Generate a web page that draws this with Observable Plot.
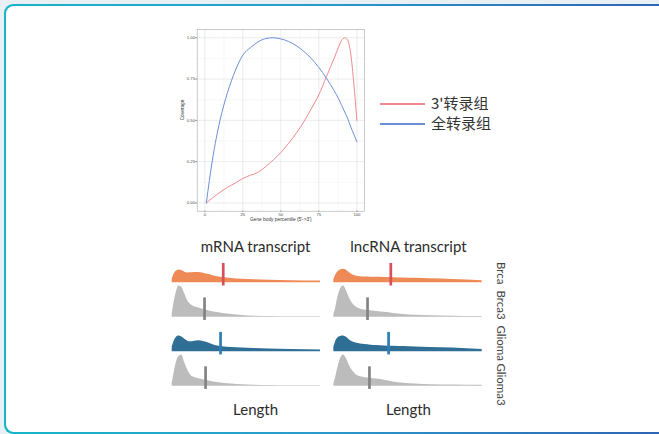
<!DOCTYPE html>
<html><head><meta charset="utf-8">
<script src="https://cdn.jsdelivr.net/npm/d3@7"></script>
<script src="https://cdn.jsdelivr.net/npm/@observablehq/plot@0.6"></script>
<style>
html,body{margin:0;padding:0}
body{width:659px;height:434px;overflow:hidden;position:relative;background:#e9f0f3}
#frame{position:absolute;left:4px;top:4px;width:672px;height:429.5px;border-radius:9px;box-sizing:border-box;padding:1.5px;background:linear-gradient(90deg,#17b6c8 0%,#2a9bcc 45%,#2f62b4 100%)}
#frame>div{width:100%;height:100%;background:#fff;border-radius:8px}
.abs{position:absolute}
#legend{position:absolute;left:380px;top:92px;font-family:"Noto Sans CJK SC","Noto Sans",sans-serif;font-size:15px;color:#333}
#legend .row{position:absolute;left:0;height:20px;width:120px}
#legend .ln{position:absolute;left:0;top:10px;width:45px;height:2px}
#legend .tx{position:absolute;left:51px;top:0;line-height:20px;white-space:nowrap}
</style></head>
<body>
<div id="frame"><div></div></div>
<div id="topChart" class="abs" style="left:150px;top:20px"></div>
<div id="legend">
  <div class="row" style="top:1px"><div class="ln" id="lnA"></div><div class="tx" id="txA"></div></div>
  <div class="row" style="top:21px"><div class="ln" id="lnB"></div><div class="tx" id="txB"></div></div>
</div>
<div id="bottomChart" class="abs" style="left:160px;top:230px"></div>
<script>
// ---------- coverage chart data ----------
const seriesNames = ["3'转录组", "全转录组"];
const percentile = [1, 5, 10, 15, 20, 25, 30, 35, 40, 45, 50, 55, 60, 65, 70, 75, 80, 85, 88, 90, 92, 94, 96, 98, 100];
const cov3prime  = [0, 0.03, 0.065, 0.095, 0.12, 0.148, 0.168, 0.185, 0.22, 0.26, 0.305, 0.36, 0.42, 0.49, 0.57, 0.655, 0.765, 0.875, 0.945, 0.985, 1.0, 0.985, 0.9, 0.72, 0.5];
const covFull    = [0, 0.26, 0.5, 0.67, 0.8, 0.895, 0.94, 0.975, 0.995, 1.0, 0.993, 0.978, 0.953, 0.918, 0.875, 0.82, 0.755, 0.68, 0.63, 0.59, 0.55, 0.51, 0.46, 0.415, 0.37];
const xTicks = [0, 25, 50, 75, 100];
const yTicks = [0, 0.25, 0.5, 0.75, 1.0];
const xMinor = [12.5, 37.5, 62.5, 87.5];
const yMinor = [0.125, 0.375, 0.625, 0.875];

// ---------- length distribution data ----------
const columns = ["mRNA transcript", "lncRNA transcript"];
const groups = ["Brca", "Brca3", "Glioma", "Glioma3"];
const lengthGrid  = [0, 1, 2.5, 4.5, 6.5, 8.5, 10.5, 12.5, 15, 18, 21, 25, 29, 34, 40, 47, 55, 65, 80, 100];
const mrnaBrca    = [0.12, 0.25, 0.36, 0.41, 0.39, 0.34, 0.315, 0.32, 0.33, 0.33, 0.31, 0.265, 0.21, 0.17, 0.14, 0.115, 0.1, 0.085, 0.07, 0.055];
const mrnaBrca3   = [0.1, 0.4, 0.75, 1.0, 0.96, 0.74, 0.52, 0.41, 0.34, 0.3, 0.25, 0.2, 0.16, 0.125, 0.09, 0.06, 0.035, 0.025, 0.018, 0.015];
const mrnaGlioma  = [0.15, 0.3, 0.44, 0.5, 0.47, 0.4, 0.34, 0.32, 0.34, 0.355, 0.33, 0.27, 0.2, 0.16, 0.14, 0.12, 0.105, 0.09, 0.07, 0.055];
const mrnaGlioma3 = [0.1, 0.35, 0.7, 0.95, 1.0, 0.74, 0.52, 0.35, 0.28, 0.24, 0.21, 0.17, 0.13, 0.1, 0.075, 0.05, 0.035, 0.025, 0.018, 0.015];
const lncBrca     = [0.1, 0.22, 0.34, 0.41, 0.43, 0.4, 0.32, 0.26, 0.22, 0.195, 0.185, 0.18, 0.175, 0.17, 0.165, 0.155, 0.145, 0.13, 0.11, 0.07];
const lncBrca3    = [0.08, 0.25, 0.6, 0.9, 1.0, 0.85, 0.62, 0.45, 0.33, 0.26, 0.235, 0.21, 0.185, 0.16, 0.125, 0.09, 0.065, 0.05, 0.038, 0.03];
const lncGlioma   = [0.15, 0.3, 0.43, 0.49, 0.5, 0.46, 0.38, 0.32, 0.28, 0.25, 0.23, 0.21, 0.2, 0.185, 0.175, 0.165, 0.155, 0.14, 0.12, 0.07];
const lncGlioma3  = [0.08, 0.25, 0.55, 0.88, 1.0, 0.88, 0.66, 0.5, 0.37, 0.3, 0.27, 0.25, 0.23, 0.19, 0.14, 0.1, 0.075, 0.05, 0.038, 0.03];
const mrnaMedian  = [34.4, 21.8, 32.6, 22.5];
const lncMedian   = [38.4, 22.7, 36.9, 24.0];

// ---------- styles ----------
const lineColor = {"3'转录组": "#ee8b90", "全转录组": "#6d8fd3"};
const fillColor = {Brca: "#ee8a55", Brca3: "#bcbcbc", Glioma: "#2f6f96", Glioma3: "#bcbcbc"};
const markColor = {Brca: "#d8505a", Brca3: "#838383", Glioma: "#2e7db5", Glioma3: "#838383"};
const labelShift = {Brca: 10.5, Brca3: 4.5, Glioma: 5, Glioma3: 8.5};

// ---------- coverage chart ----------
const covData = [];
percentile.forEach((p, i) => {
  covData.push({series: seriesNames[0], x: p, y: cov3prime[i]});
  covData.push({series: seriesNames[1], x: p, y: covFull[i]});
});
const covPlot = Plot.plot({
  width: 230, height: 205,
  marginLeft: 46.7, marginRight: 16, marginTop: 9, marginBottom: 14.3,
  style: {fontFamily: "Liberation Sans, Arial, sans-serif", fontSize: "4.2px", color: "#4d4d4d", background: "transparent"},
  x: {domain: [-5, 105], axis: null},
  y: {domain: [-0.05, 1.05], axis: null},
  color: {type: "identity"},
  marks: [
    Plot.gridX(xMinor, {stroke: "#f1f1f1", strokeOpacity: 1, strokeWidth: 0.5}),
    Plot.gridY(yMinor, {stroke: "#f1f1f1", strokeOpacity: 1, strokeWidth: 0.5}),
    Plot.gridX(xTicks, {stroke: "#e4e4e4", strokeOpacity: 1, strokeWidth: 0.7}),
    Plot.gridY(yTicks, {stroke: "#e4e4e4", strokeOpacity: 1, strokeWidth: 0.7}),
    Plot.axisX(xTicks, {tickSize: 1, tickPadding: 0.6, label: null, stroke: "#555", fill: "#4d4d4d", fontSize: 4.2}),
    Plot.axisY(yTicks, {tickSize: 1.2, tickPadding: 1, label: null, tickFormat: d3.format(".2f"), stroke: "#555", fill: "#4d4d4d", fontSize: 4.2}),
    Plot.frame({stroke: "#a8a8a8", strokeWidth: 0.6}),
    Plot.line(covData, {x: "x", y: "y", z: "series", stroke: d => lineColor[d.series], strokeWidth: 1, curve: "monotone-x"}),
    Plot.text(["Gene body percentile (5'->3')"], {frameAnchor: "bottom", dy: 8, lineAnchor: "middle", fill: "#333", fontSize: 4.8}),
    Plot.text(["Coverage"], {frameAnchor: "left", rotate: -90, dx: -15, lineAnchor: "middle", fill: "#333", fontSize: 4.8})
  ]
});
document.getElementById("topChart").appendChild(covPlot);

// legend
document.getElementById("lnA").style.background = lineColor[seriesNames[0]];
document.getElementById("lnB").style.background = lineColor[seriesNames[1]];
document.getElementById("txA").textContent = seriesNames[0];
document.getElementById("txB").textContent = seriesNames[1];

// ---------- length distributions ----------
const dens = {
  "mRNA transcript": {Brca: mrnaBrca, Brca3: mrnaBrca3, Glioma: mrnaGlioma, Glioma3: mrnaGlioma3},
  "lncRNA transcript": {Brca: lncBrca, Brca3: lncBrca3, Glioma: lncGlioma, Glioma3: lncGlioma3}
};
const medians = {"mRNA transcript": mrnaMedian, "lncRNA transcript": lncMedian};
const areaData = [], ruleData = [];
for (const c of columns) {
  groups.forEach((g, gi) => {
    lengthGrid.forEach((x, i) => areaData.push({col: c, row: g, x, y: dens[c][g][i]}));
    ruleData.push({col: c, row: g, x: medians[c][gi]});
  });
}
const titleX = {"mRNA transcript": 56.2, "lncRNA transcript": 50.3};
const rowLabels = groups.map(g => Plot.text([g], {fx: () => columns[1], fy: d => d, text: d => d, frameAnchor: "top-right", rotate: 90, textAnchor: "start", lineAnchor: "middle", dx: 18.3, dy: labelShift[g], fontSize: 11.5, fill: "#444"}));
const lenPlot = Plot.plot({
  width: 350, height: 195,
  marginLeft: 11.7, marginRight: 28.3, marginTop: 21, marginBottom: 36.1,
  style: {fontFamily: "Lato, 'Open Sans', sans-serif", background: "transparent"},
  fx: {domain: columns, paddingInner: 0.0823, paddingOuter: 0, round: false, axis: null},
  fy: {domain: groups, padding: 0, round: false, axis: null},
  x: {domain: [0, 100], axis: null},
  y: {domain: [-0.1, 1.0], axis: null},
  color: {type: "identity"},
  marks: [
    Plot.areaY(areaData, {x: "x", y: "y", fx: "col", fy: "row", fill: d => fillColor[d.row], curve: "monotone-x"}),
    Plot.ruleX(ruleData, {x: "x", y1: -0.1, y2: 0.62, fx: "col", fy: "row", stroke: d => markColor[d.row], strokeWidth: 2.7}),
    Plot.text(columns, {fx: d => d, fy: () => groups[0], x: d => titleX[d], text: d => d, frameAnchor: "top", lineAnchor: "middle", dy: -4.3, fontSize: 15, fill: "#2b2b2b"}),
    Plot.text(columns, {fx: d => d, fy: () => groups[3], x: d => titleX[d], text: () => "Length", frameAnchor: "bottom", lineAnchor: "middle", dy: 21.1, fontSize: 15, fill: "#2b2b2b"}),
    ...rowLabels
  ]
});
document.getElementById("bottomChart").appendChild(lenPlot);
</script>
</body></html>
